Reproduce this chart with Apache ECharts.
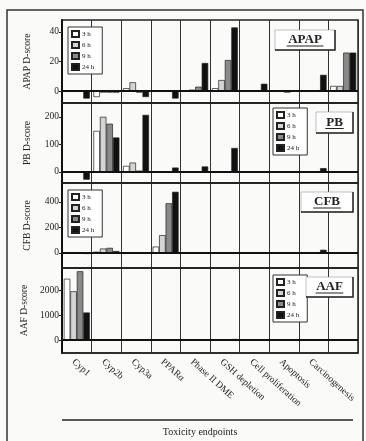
<!DOCTYPE html>
<html>
<head>
<meta charset="utf-8">
<script src="https://cdn.jsdelivr.net/npm/echarts@6/dist/echarts.min.js"></script>
<style>
  html, body { margin: 0; padding: 0; background: #fafaf8; }
  #chart { width: 366px; height: 441px; }
</style>
</head>
<body>
<div id="chart"></div>
<script>
// categories along the x axis (last column has no label in the figure)
const categories = ["Cyp1", "Cyp2b", "Cyp3a", "PPARα", "Phase II DME", "GSH depletion",
  "Cell proliferation", "Apoptosis", "Carcinogenesis", ""];
const timeLabels = ["3 h", "6 h", "9 h", "24 h"];

// D-scores
const apap3h  = [0, -4, 2, 0, 0, 2, 0, 0, 0, 3.5];
const apap6h  = [0, -1, 6, 0, 1, 7.5, 0, 0, 0, 3.5];
const apap9h  = [0, -1, -1, 0, 3, 21, 0, -1, 0, 26];
const apap24h = [-5, -1, -4, -5, 19, 43, 5, 0, 11, 26];

const pb3h  = [0, 149, 22, 0, 0, 0, 0, 0, 0, 0];
const pb6h  = [0, 200, 34, 0, 0, 0, 0, 0, 0, 0];
const pb9h  = [0, 175, 5, 0, 0, 0, 0, 0, 0, 0];
const pb24h = [-28, 125, 207, 16, 20, 87, 0, 0, 14, 0];

const cfb3h  = [0, 10, 0, 50, 0, 0, 0, 0, 0, 0];
const cfb6h  = [0, 35, 0, 140, 0, 0, 0, 0, 0, 0];
const cfb9h  = [0, 40, -5, 390, 0, 0, 0, 0, 0, 5];
const cfb24h = [-8, 15, -5, 480, 0, 0, 5, 0, 25, 0];

const aaf3h  = [2450, 0, 0, 0, 0, 0, 0, 0, 0, 0];
const aaf6h  = [1950, 20, 0, 0, 0, 0, 0, 0, 0, 0];
const aaf9h  = [2750, 20, -20, 0, 0, 0, 0, 0, 0, 0];
const aaf24h = [1100, 30, -30, 0, 0, 40, 0, 0, 0, 0];

// y tick labels per panel
const apapTicks = [0, 20, 40];
const pbTicks = [0, 100, 200];
const cfbTicks = [0, 200, 400];
const aafTicks = [0, 1000, 2000];

const barColors = ["#ffffff", "#d4d4d4", "#8a8a8a", "#111111"];
const serif = "Liberation Serif";

const panels = [
  { name: "APAP", series: [apap3h, apap6h, apap9h, apap24h], ticks: apapTicks, min: -8, max: 48,
    top: 20, height: 83, legend: { left: 68, top: 27 }, box: [275, 30, 60, 20] },
  { name: "PB", series: [pb3h, pb6h, pb9h, pb24h], ticks: pbTicks, min: -40, max: 250,
    top: 103, height: 80, legend: { left: 273, top: 108 }, box: [316, 112, 37, 21] },
  { name: "CFB", series: [cfb3h, cfb6h, cfb9h, cfb24h], ticks: cfbTicks, min: -118, max: 549,
    top: 183, height: 85, legend: { left: 68, top: 190 }, box: [301, 192, 52, 20] },
  { name: "AAF", series: [aaf3h, aaf6h, aaf9h, aaf24h], ticks: aafTicks, min: -520, max: 2880,
    top: 268, height: 85, legend: { left: 273, top: 275 }, box: [306, 277, 47, 20] },
];

const myChart = echarts.init(document.getElementById("chart"));

const grid = [];
const xAxis = [];
const yAxis = [];
const legend = [];
const series = [];
const graphic = [];

panels.forEach((p, i) => {
  const last = i === panels.length - 1;
  grid.push({
    left: 62, right: 8, top: p.top, height: p.height,
    show: true, borderColor: "#222", borderWidth: 1.5, backgroundColor: "transparent",
    outerBoundsMode: "none",
  });
  xAxis.push({
    type: "category", gridIndex: i, data: categories,
    axisLine: { onZero: false, lineStyle: { color: "#222", width: 1.5 } },
    axisTick: { show: false },
    splitLine: { show: true, interval: 0, lineStyle: { color: "#333", width: 1 } },
    axisLabel: {
      show: last, interval: 0, rotate: -42, margin: 4, verticalAlign: "top",
      fontFamily: serif, fontSize: 9.5, color: "#222",
    },
  });
  yAxis.push({
    type: "value", gridIndex: i, min: p.min, max: p.max,
    name: p.name + " D-score", nameLocation: "middle", nameGap: 30,
    nameTextStyle: { fontFamily: serif, fontSize: 9.5, color: "#222" },
    axisLine: { show: true, lineStyle: { color: "#111", width: 2 } },
    axisTick: { show: true, customValues: p.ticks, length: 3, lineStyle: { color: "#222" } },
    axisLabel: {
      customValues: p.ticks, margin: 3, formatter: (v) => String(v),
      fontFamily: serif, fontSize: 9.5, color: "#222",
    },
    splitLine: { show: false },
  });
  legend.push({
    data: timeLabels, orient: "vertical", left: p.legend.left, top: p.legend.top,
    itemWidth: 7, itemHeight: 6, itemGap: 3, icon: "rect", selectedMode: false,
    padding: [3, 8, 3, 3], borderColor: "#333", borderWidth: 1, backgroundColor: "#fff",
    textStyle: { fontFamily: serif, fontSize: 7, color: "#222", padding: [0, 0, 0, -2] },
  });
  p.series.forEach((vals, k) => {
    const s = {
      name: timeLabels[k], type: "bar", xAxisIndex: i, yAxisIndex: i,
      data: vals, barWidth: 6.5, barGap: "0%",
      itemStyle: { color: barColors[k], borderColor: "#222", borderWidth: 0.7 },
    };
    if (k === 0) {
      s.markLine = {
        silent: true, symbol: "none", label: { show: false },
        lineStyle: { color: "#111", width: 2, type: "solid" },
        data: [{ yAxis: 0 }],
      };
    }
    series.push(s);
  });
  // underlined panel title in a shadowed box
  const [bx, by, bw, bh] = p.box;
  graphic.push(
    { type: "rect", shape: { x: bx, y: by, width: bw, height: bh },
      style: { fill: "#fff", stroke: "#999", lineWidth: 0.6 }, z: 100 },
    { type: "polyline", shape: { points: [[bx + bw, by], [bx + bw, by + bh], [bx, by + bh]] },
      style: { fill: null, stroke: "#222", lineWidth: 1.5 }, z: 101 },
    { type: "text", x: bx + bw / 2, y: by + bh / 2, z: 102,
      style: { text: p.name, fontFamily: serif, fontSize: 13, fontWeight: "bold",
        fill: "#222", align: "center", verticalAlign: "middle" } },
    { type: "line", z: 102,
      shape: { x1: bx + bw / 2 - p.name.length * 4.6, y1: by + bh / 2 + 6,
               x2: bx + bw / 2 + p.name.length * 4.6, y2: by + bh / 2 + 6 },
      style: { stroke: "#222", lineWidth: 1 } }
  );
});

// outer frame, x-axis title rule and title
graphic.push(
  { type: "rect", shape: { x: 7, y: 10, width: 356, height: 445 },
    style: { fill: null, stroke: "#333", lineWidth: 1.5 }, z: 90 },
  { type: "line", shape: { x1: 62, y1: 420, x2: 353, y2: 420 },
    style: { stroke: "#222", lineWidth: 1.5 } },
  { type: "text", x: 200, y: 432,
    style: { text: "Toxicity endpoints", fontFamily: serif, fontSize: 10,
      fill: "#222", align: "center", verticalAlign: "middle" } }
);

const option = {
  animation: false,
  backgroundColor: "#fafaf8",
  textStyle: { fontFamily: serif },
  grid, xAxis, yAxis, legend, series, graphic,
};

myChart.setOption(option);
window.addEventListener("resize", () => myChart.resize());
</script>
</body>
</html>
